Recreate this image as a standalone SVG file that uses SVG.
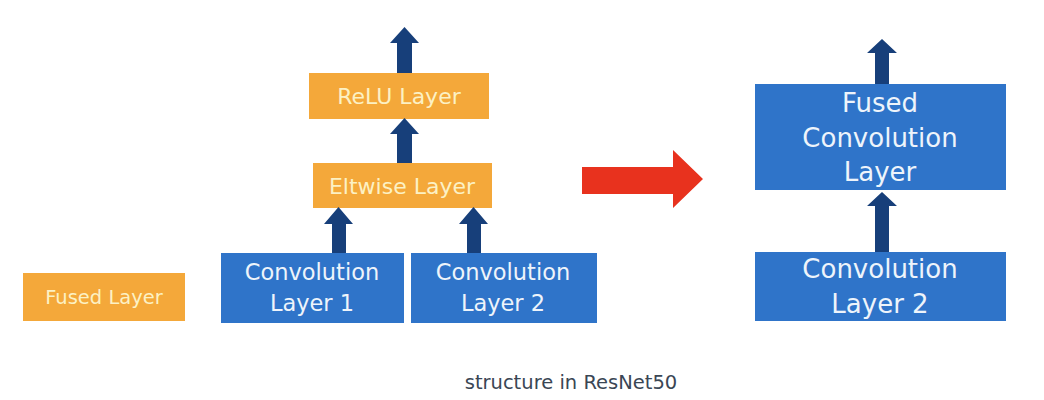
<svg xmlns="http://www.w3.org/2000/svg" width="1044" height="400" viewBox="0 0 1044 400">
<defs>
<style>
.or{fill:#F4A83A}
.bl{fill:#2F74C9}
.ar{fill:#173F7A}
.to{font-family:"DejaVu Sans","Open Sans",sans-serif;fill:#FCF1C4;text-anchor:middle}
.tb{font-family:"DejaVu Sans","Open Sans",sans-serif;fill:#EEF4FB;text-anchor:middle}
</style>
</defs>
<rect width="1044" height="400" fill="#ffffff"/>
<g id="relu"><rect class="or" x="309" y="73" width="180" height="46"/><text class="to" x="399" y="104" font-size="22">ReLU Layer</text></g>
<g id="eltwise"><rect class="or" x="313" y="163" width="179" height="45"/><text class="to" x="402" y="194" font-size="22">Eltwise Layer</text></g>
<g id="conv1"><rect class="bl" x="221" y="253" width="183" height="70"/><text class="tb" x="312" y="280" font-size="22.5">Convolution</text><text class="tb" x="312" y="311" font-size="22.5">Layer 1</text></g>
<g id="conv2"><rect class="bl" x="411" y="253" width="186" height="70"/><text class="tb" x="503" y="280" font-size="22.5">Convolution</text><text class="tb" x="503" y="311" font-size="22.5">Layer 2</text></g>
<g id="fusedlayer"><rect class="or" x="23" y="273" width="162" height="48"/><text class="to" x="104" y="304" font-size="19.5">Fused Layer</text></g>
<g id="fusedconv"><rect class="bl" x="755" y="84" width="251" height="106"/><text class="tb" x="880" y="112" font-size="26">Fused</text><text class="tb" x="880" y="147" font-size="26">Convolution</text><text class="tb" x="880" y="181" font-size="26">Layer</text></g>
<g id="conv2r"><rect class="bl" x="755" y="252" width="251" height="69"/><text class="tb" x="880" y="278" font-size="26">Convolution</text><text class="tb" x="880" y="313" font-size="26">Layer 2</text></g>
<g id="connectors">
<polygon class="ar" points="397,73 397,43 390,43 404.5,27 419,43 412,43 412,73"/>
<polygon class="ar" points="397,163 397,134 390,134 404.5,118 419,134 412,134 412,163"/>
<polygon class="ar" points="332,253 332,224 324,224 338.5,207 353,224 346,224 346,253"/>
<polygon class="ar" points="467,253 467,224 459,224 473.5,207 488,224 481,224 481,253"/>
<polygon class="ar" points="875,84 875,53 867,53 882,39 897,53 889,53 889,84"/>
<polygon class="ar" points="875,252 875,206 867,206 882,192 897,206 889,206 889,252"/>
<polygon fill="#E8321E" points="582,167 673,167 673,150 703,179 673,208 673,194 582,194"/>
</g>
<text x="571" y="389" font-family="DejaVu Sans, Open Sans, sans-serif" font-size="19.5" fill="#3A4654" text-anchor="middle">structure in ResNet50</text>
</svg>
